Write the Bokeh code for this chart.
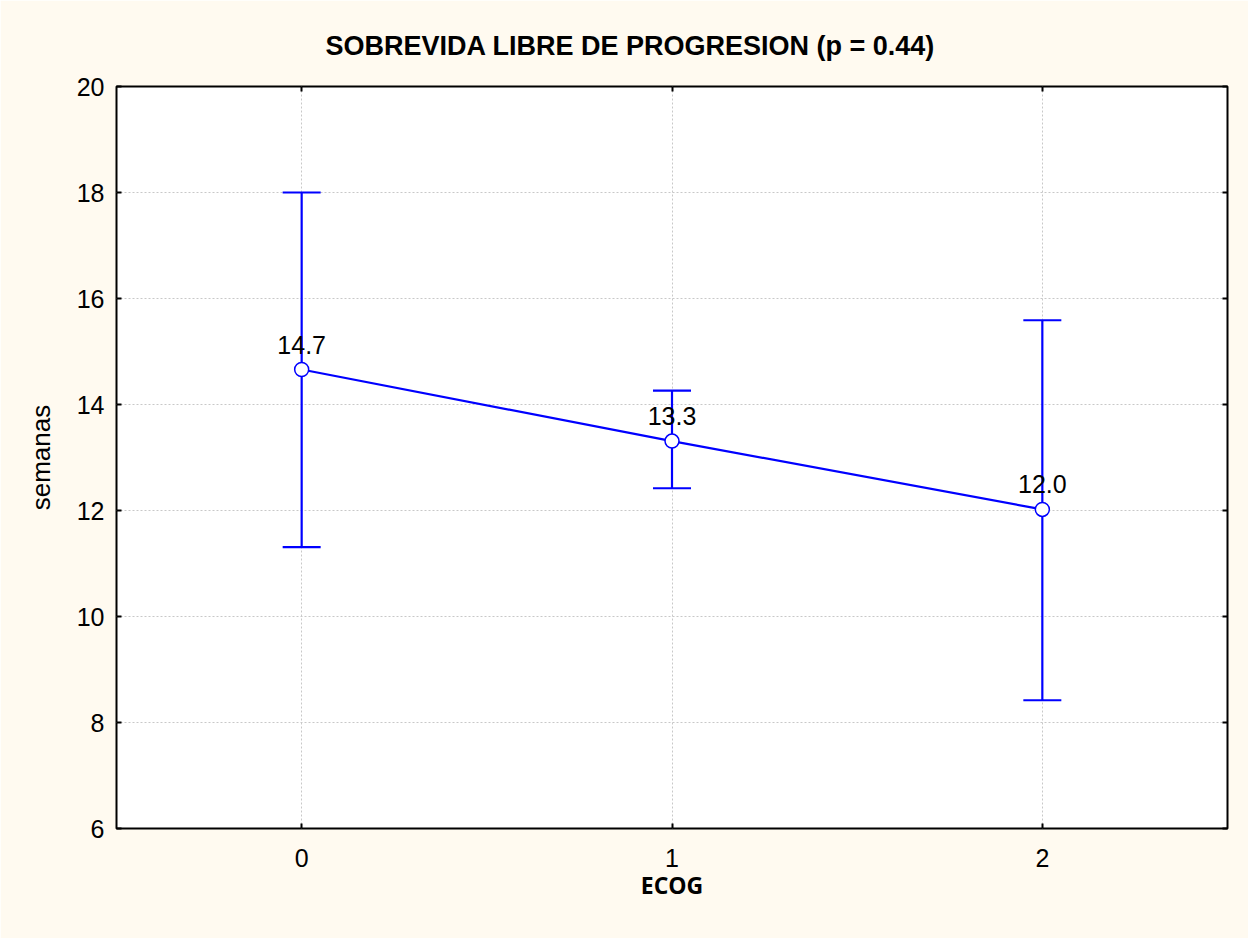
from bokeh.plotting import figure
from bokeh.models import (ColumnDataSource, Whisker, TeeHead, LinearAxis, Range1d,
                          FixedTicker, Title, CustomLabelingPolicy)
from bokeh.core.properties import value
from bokeh.embed import file_html
from bokeh.resources import INLINE

ecog = [0, 1, 2]
mean_weeks = [14.66, 13.31, 12.02]
lower_ci = [11.31, 12.42, 8.42]
upper_ci = [18.0, 14.26, 15.59]
point_labels = ["14.7", "13.3", "12.0"]
y_ticks = [6, 8, 10, 12, 14, 16, 18, 20]

BG = "#fffaf0"
BLUE = "#0000ff"
FONT = "Liberation Sans"

src = ColumnDataSource(dict(x=ecog, y=mean_weeks, lo=lower_ci, hi=upper_ci, lab=point_labels))

p = figure(width=1248, height=938, output_backend="svg", toolbar_location=None,
           x_range=Range1d(-0.5, 2.5), y_range=Range1d(6, 20),
           background_fill_color="white", border_fill_color=BG,
           min_border_left=116, min_border_right=21, min_border_top=86, min_border_bottom=110)

p.outline_line_color = "black"
p.outline_line_width = 2

# grid
for g in (p.xgrid, p.ygrid):
    g.grid_line_color = "#c8c8c8"
    g.grid_line_dash = "2 2"
    g.grid_line_width = 1
p.xaxis.ticker = FixedTicker(ticks=ecog)
p.yaxis.ticker = FixedTicker(ticks=y_ticks)

for ax in (p.xaxis[0], p.yaxis[0]):
    ax.major_tick_in = 5
    ax.major_tick_out = 0
    ax.minor_tick_line_color = None
    ax.axis_line_color = None
    ax.major_tick_line_width = 2
    ax.major_label_text_font = FONT
    ax.major_label_text_font_size = "25px"
    ax.major_label_text_color = "black"

p.yaxis.major_label_standoff = 12
p.yaxis.axis_label = "semanas"
p.yaxis.axis_label_text_font = FONT
p.yaxis.axis_label_text_font_style = "normal"
p.yaxis.axis_label_text_font_size = "26px"
p.yaxis.axis_label_text_color = "black"
p.yaxis.axis_label_standoff = 18

p.xaxis.major_label_standoff = 20
p.xaxis.axis_label = "ECOG"
p.xaxis.axis_label_text_font = "Open Sans"
p.xaxis.axis_label_text_font_style = "bold"
p.xaxis.axis_label_text_font_size = "23px"
p.xaxis.axis_label_text_color = "black"
p.xaxis.axis_label_standoff = -1

# extra tick-only axes on top and right (labels suppressed)
hide_all = CustomLabelingPolicy(code="for (const i of indices) { indices.unset(i) } return indices")
top = LinearAxis(ticker=FixedTicker(ticks=ecog), major_tick_in=5, major_tick_out=0,
                 minor_tick_line_color=None, axis_line_color=None, major_tick_line_width=2,
                 major_label_text_font_size="1px", major_label_standoff=0,
                 major_label_policy=hide_all)
right = LinearAxis(ticker=FixedTicker(ticks=y_ticks), major_tick_in=5, major_tick_out=0,
                   minor_tick_line_color=None, axis_line_color=None, major_tick_line_width=2,
                   major_label_text_font_size="1px", major_label_standoff=0,
                   major_label_policy=hide_all)
p.add_layout(top, "above")
p.add_layout(right, "right")

# error bars
w = Whisker(source=src, base="x", lower="lo", upper="hi", line_color=BLUE, line_width=2.2,
            upper_head=TeeHead(size=38, line_color=BLUE, line_width=2.2),
            lower_head=TeeHead(size=38, line_color=BLUE, line_width=2.2))
p.add_layout(w)

p.line("x", "y", source=src, line_color=BLUE, line_width=2.2)
p.scatter("x", "y", source=src, size=14, fill_color="white", line_color=BLUE, line_width=1.5)
p.text("x", "y", text="lab", source=src, text_align="center", text_baseline="alphabetic",
       y_offset=-25, text_font=value(FONT), text_font_size="25px", text_color="black")

t = Title(text="SOBREVIDA LIBRE DE PROGRESION (p = 0.44)", align="left",
          text_font=FONT, text_font_style="bold", text_font_size="27px",
          text_color="black", standoff=44, offset=209)
p.add_layout(t, "above")

open("out.html", "w").write(file_html(p, INLINE))
